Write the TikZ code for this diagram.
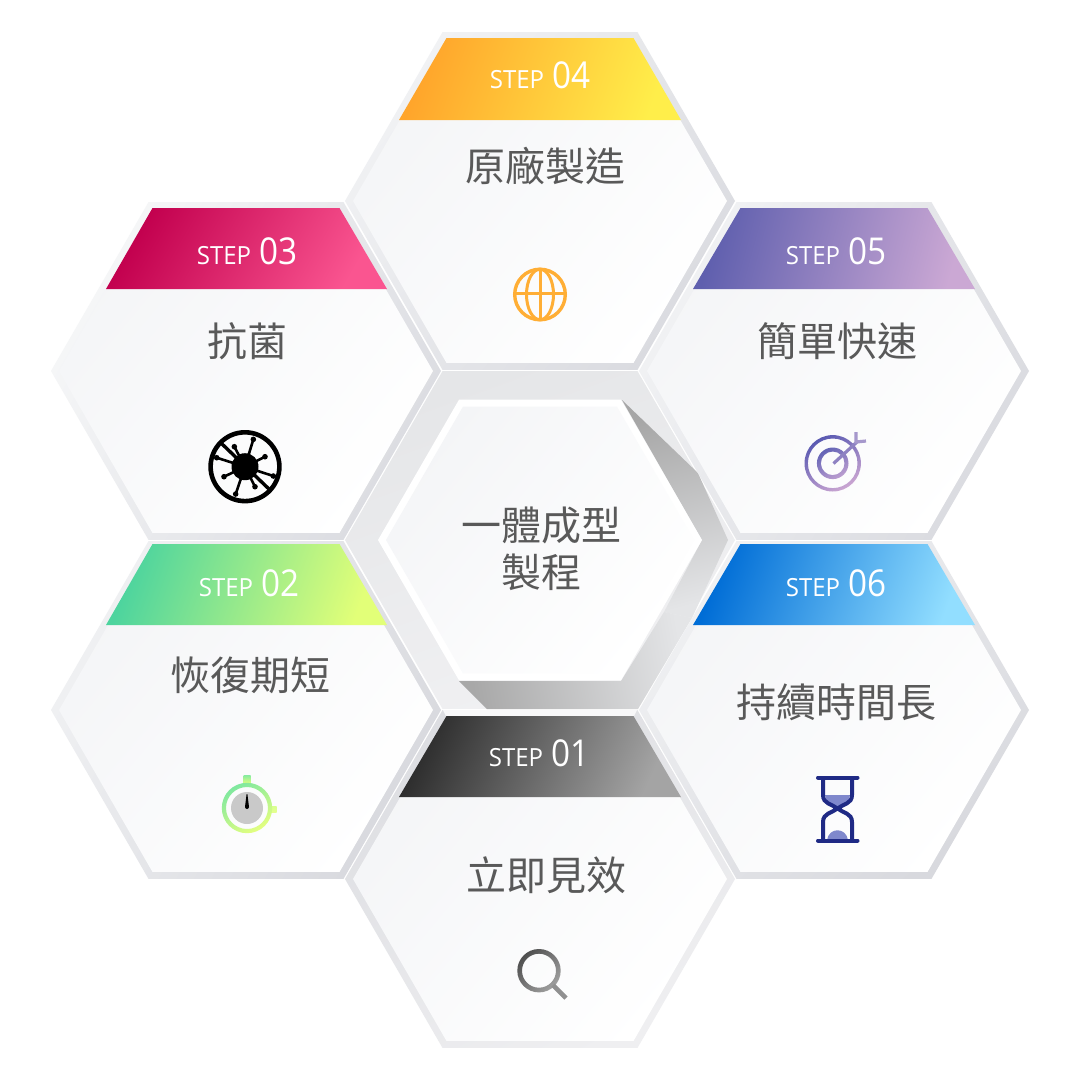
\documentclass[tikz,border=0pt]{standalone}
\usepackage{fontspec}
\newfontfamily\cjk{Noto Sans CJK TC}
\newfontfamily\latn[FakeStretch=0.96]{Open Sans}
\newfontfamily\latnum[FakeStretch=0.9]{Open Sans}
\newcommand{\hc}[1]{\definecolor{#1}{HTML}{#1}}
\hc{E5E6E8}\hc{F1F1F3}\hc{A6A6A6}\hc{E4E5E7}\hc{A8A8A8}\hc{FFA52B}\hc{FFBC52}\hc{FFEE4A}\hc{C2004E}\hc{FA5590}\hc{5F5FAE}\hc{CBA8D4}\hc{4DD49E}\hc{8EF2A0}\hc{E2FF78}\hc{006DD6}\hc{1AABF0}\hc{92DEFF}\hc{2E2E2E}\hc{A4A4A4}\hc{FFAE35}\hc{86EBA0}\hc{D8FF80}\hc{D8FF90}\hc{E4FF90}\hc{7FE89F}\hc{E4FF80}\hc{C9C9C9}\hc{5A5AB2}\hc{CBA6D2}\hc{6464B6}\hc{BC9ED0}\hc{8E82C2}\hc{A698CC}\hc{7F88CC}\hc{1F2A85}\hc{4F4F4F}\hc{A0A0A0}\hc{909090}
\hc{F1F2F4}\hc{DADBE0}\hc{F6F7F8}\hc{DBDCE1}\hc{F0F1F3}\hc{D8D9DE}\hc{DDDEE2}\hc{EFEFF1}\hc{F8F8F9}\hc{F4F5F7}\hc{FEFEFE}
\definecolor{txt}{HTML}{595959}
\newcommand{\hexat}[3]{({#1+#3},{#2}) -- ({#1+.5*#3},{#2+.866*#3}) -- ({#1-.5*#3},{#2+.866*#3}) -- ({#1-#3},{#2}) -- ({#1-.5*#3},{#2-.866*#3}) -- ({#1+.5*#3},{#2-.866*#3}) -- cycle}
\newcommand{\hexcell}[5]{%
  \shade[top color=#3,bottom color=#4,shading angle=#5] \hexat{#1}{#2}{195};
  \shade[faceshade] \hexat{#1}{#2}{187};}
\tikzset{
  faceshade/.style={top color=F4F5F7,middle color=FEFEFE,bottom color=white,shading angle=50},
  titlelabel/.style={text=txt,font=\cjk\fontsize{40}{47}\selectfont,inner sep=0pt,align=center},
  steplabel/.style={text=white,inner sep=0pt,anchor=base},
}
\newcommand{\steptext}[1]{{\latn\fontsize{25}{25}\selectfont STEP}\hspace{8pt}{\latnum\fontsize{37}{37}\selectfont #1}}
\begin{document}
\begin{tikzpicture}[x=1pt,y=-1pt]
\useasboundingbox (0,0) rectangle (1080,1080);
\fill[white] (0,0) rectangle (1080,1080);
% central ring
\shade[top color=E5E6E8,bottom color=F1F1F3,shading angle=20] \hexat{540}{540}{195};
% shadows
\shade[top color=A6A6A6,bottom color=E4E5E7,shading angle=15] (622,400) -- (698,473) -- (728,540) -- (692,618) -- (664,612) -- (702,540) -- cycle;
\shade[left color=A8A8A8,right color=E4E5E7,shading angle=100] (459,681) -- (621,681) -- (664,612) -- (692,618) -- (638,709) -- (487,709) -- cycle;
% central hex
\fill[white] \hexat{540}{540}{162};
\shade[faceshade] \hexat{540}{540}{154};
% cells
\hexcell{540}{201}{F1F2F4}{DADBE0}{50}
\hexcell{246}{371}{F6F7F8}{DBDCE1}{60}
\hexcell{834}{371}{F1F2F4}{DADBE0}{60}
\hexcell{246}{710}{F0F1F3}{D8D9DE}{60}
\hexcell{834}{710}{F0F1F3}{D8D9DE}{40}
\hexcell{540}{879}{DDDEE2}{EFEFF1}{30}
\fill[F8F8F9] (443,710) -- (637,710) -- (633.5,717) -- (446.5,717) -- cycle;
% bands
\shade[left color=FFA52B,middle color=FFBC52,right color=FFEE4A,shading angle=70] (446.5,38) -- (633.5,38) -- (681,120) -- (399,120) -- cycle;
\shade[left color=C2004E,right color=FA5590,shading angle=60] (152.5,208) -- (339.5,208) -- (387,289) -- (106,289) -- cycle;
\shade[left color=5F5FAE,right color=CBA8D4,shading angle=75] (740.5,208) -- (927.5,208) -- (975,289) -- (693,289) -- cycle;
\shade[left color=4DD49E,middle color=8EF2A0,right color=E2FF78,shading angle=70] (152.5,544) -- (339.5,544) -- (387,625) -- (106,625) -- cycle;
\shade[left color=006DD6,middle color=1AABF0,right color=92DEFF,shading angle=70] (740.5,544) -- (927.5,544) -- (975,625) -- (693,625) -- cycle;
\shade[left color=2E2E2E,right color=A4A4A4,shading angle=65] (446.5,716) -- (633.5,716) -- (681,797) -- (399,797) -- cycle;
% step labels
\node[steplabel] (s4) at (540,88) {\steptext{04}};
\node[steplabel] (s3) at (247,264) {\steptext{03}};
\node[steplabel] (s5) at (836,264) {\steptext{05}};
\node[steplabel] (s2) at (249,596) {\steptext{02}};
\node[steplabel] (s6) at (836,596) {\steptext{06}};
\node[steplabel] (s1) at (539,766) {\steptext{01}};
% titles
\node[titlelabel] (t4) at (545,166) {原廠製造};
\node[titlelabel] (t3) at (247,341) {抗菌};
\node[titlelabel] (t5) at (837,341) {簡單快速};
\node[titlelabel] (t2) at (250,675) {恢復期短};
\node[titlelabel] (t6) at (836,702) {持續時間長};
\node[titlelabel] (t1) at (546,875) {立即見效};
\node[titlelabel] (t0) at (541,549) {一體成型\\製程};
% globe
\draw[FFAE35,line width=3.4pt] (540,294.5) circle (25.3);
\draw[FFAE35,line width=3pt] (540,294.5) ellipse (13.5 and 25.3);
\draw[FFAE35,line width=3pt] (540,269) -- (540,320) (515,293) -- (565,293);
% virus
\draw[black,line width=4.6pt] (245,466.7) circle (34.4);
\draw[black,line width=3.4pt] (221,443) -- (270,490);
\fill[black] (245,466.7) circle (13.5);
\foreach \dx/\dy in {25/-82,60/-30,85/28,30/60,-28/82,-63/30,-85/-27,-32/-60}{
  \draw[black,line width=2.6pt] (245,466.7) -- ++({\dx/3},{\dy/3});
  \fill[black] ({245+\dx/3},{466.7+\dy/3}) circle (2.8);
}
% stopwatch
\shade[top color=86EBA0,bottom color=D8FF80] (243.5,775) rectangle (250.5,783);
\shade[top color=D8FF90,bottom color=E4FF90] (271,806) rectangle (276.5,812);
\shade[top color=7FE89F,bottom color=E4FF80,shading angle=30,even odd rule] (247,808) circle (25.2) (247,808) circle (21);
\fill[C9C9C9] (247,808) circle (16);
\fill[black] (246.6,794) -- (247.4,794) -- (249,807) arc (0:180:2) -- cycle;
% target
\shade[top color=5A5AB2,bottom color=CBA6D2,shading angle=30,even odd rule] (832.7,463.3) circle (28.2) (832.7,463.3) circle (24.8);
\shade[top color=6464B6,bottom color=BC9ED0,shading angle=30,even odd rule] (832.7,463.3) circle (15.8) (832.7,463.3) circle (11.8);
\draw[8E82C2,line width=3.2pt] (833.5,463.5) -- (858,441);
\draw[A698CC,line width=3.2pt] (856,432) -- (856,442) -- (866,441);
% hourglass
\fill[7F88CC] (825,795) -- (850,795) .. controls (850,801) and (843,805) .. (837.5,809) .. controls (832,805) and (825,801) .. (825,795) -- cycle;
\fill[7F88CC] (827,840) .. controls (829,827) and (846,827) .. (848,840) -- cycle;
\draw[1F2A85,line width=4pt] (823,778) -- (823,795) .. controls (823,804) and (832,804) .. (837.5,808.5) .. controls (832,813) and (823,813) .. (823,822) -- (823,840);
\draw[1F2A85,line width=4pt] (852,778) -- (852,795) .. controls (852,804) and (843,804) .. (837.5,808.5) .. controls (843,813) and (852,813) .. (852,822) -- (852,840);
\draw[1F2A85,line width=4pt,line cap=round] (818,777.5) -- (857.5,777.5) (818,840.5) -- (857.5,840.5);
% magnifier
\shade[top color=4F4F4F,bottom color=A0A0A0,shading angle=45,even odd rule] (539,970.7) circle (21.7) (539,970.7) circle (17);
\draw[909090,line width=4.6pt] (553,985) -- (566,998);
\end{tikzpicture}
\end{document}
